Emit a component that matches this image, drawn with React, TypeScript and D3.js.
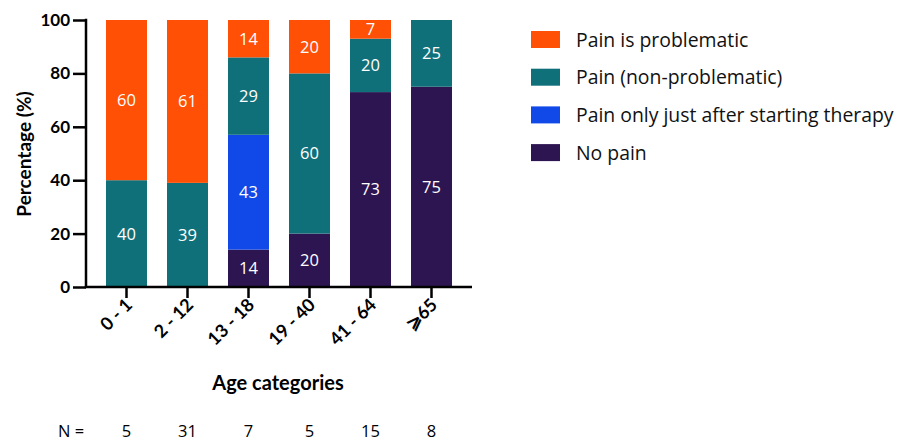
import React, { useEffect, useRef } from 'react'
import * as d3 from 'd3'

const categories = ['0 - 1', '2 - 12', '13 - 18', '19 - 40', '41 - 64', '⩾65']
const nValues = [5, 31, 7, 5, 15, 8]
const noPain = [0, 0, 14, 20, 73, 75]
const painAfterStart = [0, 0, 43, 0, 0, 0]
const painNonProblematic = [40, 39, 29, 60, 20, 25]
const painProblematic = [60, 61, 14, 20, 7, 0]
const yTicks = [0, 20, 40, 60, 80, 100]

const seriesDefs = [
	{ key: 'noPain', label: 'No pain', values: noPain, color: '#2D1552' },
	{ key: 'after', label: 'Pain only just after starting therapy', values: painAfterStart, color: '#1049E8' },
	{ key: 'nonProb', label: 'Pain (non-problematic)', values: painNonProblematic, color: '#10707A' },
	{ key: 'prob', label: 'Pain is problematic', values: painProblematic, color: '#FF5005' }
]

const App = () => {
	const ref = useRef<SVGSVGElement>(null)
	const width = 909
	const height = 441
	const font = 'Lato, "Open Sans", sans-serif'
	const legendFont = '"Open Sans", Lato, sans-serif'

	useEffect(() => {
		if (!ref.current) return
		const svg = d3.select(ref.current)
		svg.selectAll('*').remove()

		const table = categories.map((c, i) => {
			const row: any = { cat: c }
			seriesDefs.forEach(s => (row[s.key] = s.values[i]))
			return row
		})
		const stacked = d3.stack().keys(seriesDefs.map(s => s.key))(table)

		const x = d3.scaleBand().domain(categories).range([96, 462]).paddingInner(0.328).paddingOuter(0.164)
		const y = d3.scaleLinear().domain([0, 100]).range([287, 20])

		// bars
		stacked.forEach((layer, li) => {
			const g = svg.append('g')
			layer.forEach((d, i) => {
				const v = d[1] - d[0]
				if (v <= 0) return
				g.append('rect')
					.attr('x', x(categories[i]))
					.attr('y', y(d[1]))
					.attr('width', x.bandwidth())
					.attr('height', y(d[0]) - y(d[1]))
					.attr('fill', seriesDefs[li].color)
				g.append('text')
					.attr('x', x(categories[i]) + x.bandwidth() / 2)
					.attr('y', (y(d[0]) + y(d[1])) / 2)
					.attr('dy', '0.36em')
					.attr('text-anchor', 'middle')
					.attr('fill', 'white')
					.attr('font-family', legendFont)
					.attr('font-size', 16.5)
					.text(v)
			})
		})

		// y axis
		const yAxis = svg.append('g').attr('transform', 'translate(86,0)')
			.call(d3.axisLeft(y).tickValues(yTicks).tickSize(13).tickPadding(3).tickSizeOuter(0))
		yAxis.select('.domain').attr('stroke', 'black').attr('stroke-width', 2.5).attr('d', 'M0,18.8V288')
		yAxis.selectAll('.tick line').attr('stroke-width', 2.5)
		yAxis.selectAll('.tick text')
			.attr('font-family', font).attr('font-size', 17).attr('font-weight', 'bold').attr('fill', 'black')

		// x axis
		const xAxis = svg.append('g').attr('transform', 'translate(0,287)')
			.call(d3.axisBottom(x).tickSize(11).tickSizeOuter(0).tickFormat(() => ''))
		xAxis.select('.domain').attr('stroke', 'black').attr('stroke-width', 2.5).attr('d', 'M84.8,0H472')
		xAxis.selectAll('.tick line').attr('stroke-width', 2.5)

		categories.forEach(c => {
			const cx = x(c) + x.bandwidth() / 2
			svg.append('text')
				.attr('transform', `translate(${cx + 7},${306}) rotate(-45)`)
				.attr('text-anchor', 'end')
				.attr('font-family', font)
				.attr('font-size', 18)
				.attr('font-weight', 'bold')
				.text(c)
		})

		// axis titles
		svg.append('text')
			.attr('transform', 'translate(31,154) rotate(-90)')
			.attr('text-anchor', 'middle')
			.attr('font-family', font).attr('font-size', 19).attr('font-weight', 'bold')
			.text('Percentage (%)')
		svg.append('text')
			.attr('x', 278).attr('y', 390)
			.attr('text-anchor', 'middle')
			.attr('font-family', font).attr('font-size', 20).attr('font-weight', 'bold')
			.text('Age categories')

		// N row
		svg.append('text')
			.attr('x', 58).attr('y', 437)
			.attr('font-family', legendFont).attr('font-size', 16.5)
			.text('N =')
		categories.forEach((c, i) => {
			svg.append('text')
				.attr('x', x(c) + x.bandwidth() / 2).attr('y', 437)
				.attr('text-anchor', 'middle')
				.attr('font-family', legendFont).attr('font-size', 16.5)
				.text(nValues[i])
		})

		// legend
		const legendItems = [...seriesDefs].reverse()
		legendItems.forEach((s, i) => {
			const ly = 40 + i * 37.7
			svg.append('rect')
				.attr('x', 531).attr('y', ly - 9).attr('width', 29).attr('height', 17)
				.attr('fill', s.color)
			svg.append('text')
				.attr('x', 576).attr('y', ly)
				.attr('dy', '0.35em')
				.attr('font-family', legendFont).attr('font-size', 19.4)
				.attr('fill', '#111')
				.text(s.label)
		})
	}, [])

	return <svg width={width} height={height} ref={ref} style={{ display: 'block', position: 'absolute', left: 0, top: 0 }}></svg>
}

export default App
